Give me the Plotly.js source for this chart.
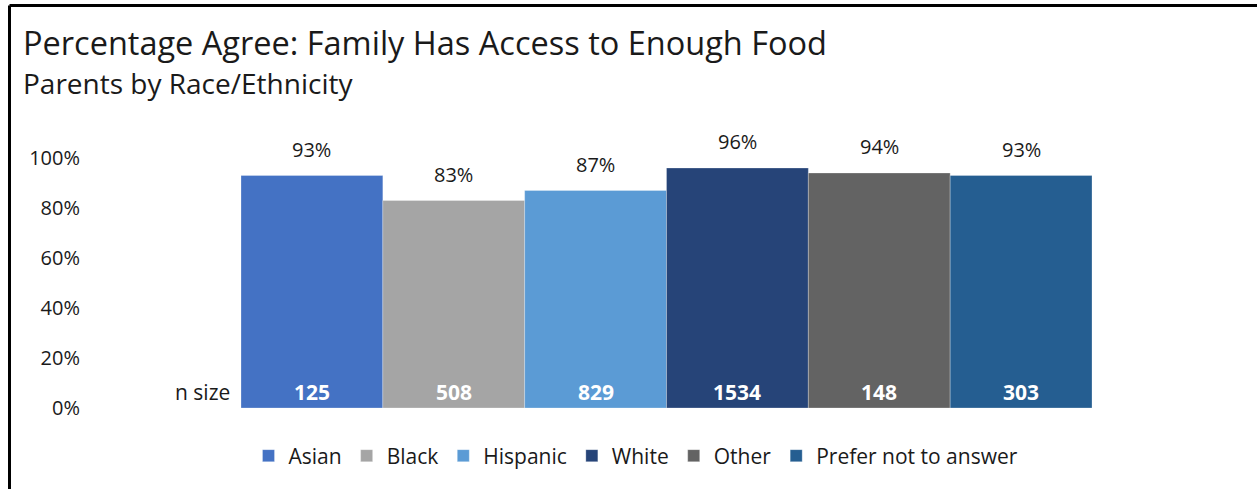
<!DOCTYPE html>
<html>
<head>
<meta charset="utf-8">
<script src="https://cdn.plot.ly/plotly-3.0.1.min.js"></script>
<style>
  html, body { margin: 0; padding: 0; background: #ffffff; }
  #chart { width: 1257px; height: 489px; }
</style>
</head>
<body>
<div id="chart"></div>
<script>
// ---- data ----
const groups = ["Asian", "Black", "Hispanic", "White", "Other", "Prefer not to answer"];
const agreeShare = [0.93, 0.83, 0.87, 0.96, 0.94, 0.93];
const agreeLabels = ["93%", "83%", "87%", "96%", "94%", "93%"];
const nSizes = ["125", "508", "829", "1534", "148", "303"];
const groupColors = ["#4472C4", "#A5A5A5", "#5B9BD5", "#264478", "#636363", "#255E91"];
const titleText = "Percentage Agree: Family Has Access to Enough Food";
const subtitleText = "Parents by Race/Ethnicity";
const nSizeLabel = "n size";

// ---- geometry (pixels) ----
const W = 1257, H = 489;
const L = 80, R = 165, T = 158, B = 81;
const plotW = W - L - R, plotH = H - T - B;
const bottomPx = H - B;
const fx = px => (px - L) / plotW;
const fy = py => (bottomPx - py) / plotH;

const FONT = '"Open Sans", "Noto Sans", sans-serif';

const traces = groups.map((g, i) => ({
  type: "bar",
  name: g,
  x: [g],
  y: [agreeShare[i]],
  marker: { color: groupColors[i], line: { width: 0.6, color: "rgba(255,255,255,0.45)" } },
  hoverinfo: "skip"
}));

const annotations = [];
annotations.push({
  xref: "paper", yref: "paper", x: fx(21), y: fy(42), xanchor: "left", yanchor: "middle",
  text: titleText, showarrow: false, font: { family: FONT, size: 32.5, color: "#1a1a1a" }
});
annotations.push({
  xref: "paper", yref: "paper", x: fx(21), y: fy(83), xanchor: "left", yanchor: "middle",
  text: subtitleText, showarrow: false, font: { family: FONT, size: 28, color: "#1a1a1a" }
});
annotations.push({
  xref: "paper", yref: "paper", x: fx(232), y: fy(392), xanchor: "right", yanchor: "middle",
  text: nSizeLabel, showarrow: false, font: { family: FONT, size: 21, color: "#1a1a1a" }
});
groups.forEach((g, i) => {
  annotations.push({
    x: g, y: agreeShare[i], xref: "x", yref: "y", yanchor: "bottom", yshift: 11,
    text: agreeLabels[i], showarrow: false, font: { family: FONT, size: 20, color: "#1a1a1a" }
  });
  annotations.push({
    x: g, y: fy(392), xref: "x", yref: "paper", yanchor: "middle",
    text: "<b>" + nSizes[i] + "</b>", showarrow: false, font: { family: FONT, size: 21, color: "#ffffff" }
  });
});

const layout = {
  width: W, height: H,
  margin: { l: L, r: R, t: T, b: B, pad: 0 },
  paper_bgcolor: "#ffffff", plot_bgcolor: "#ffffff",
  barmode: "overlay", bargap: 0,
  showlegend: true,
  legend: {
    orientation: "h", x: fx(636), xanchor: "center", y: fy(456), yanchor: "middle",
    font: { family: FONT, size: 21, color: "#1a1a1a" }, traceorder: "normal",
    itemclick: false, itemdoubleclick: false
  },
  xaxis: {
    domain: [fx(241), 1], range: [-0.5, 5.5], type: "category",
    showticklabels: false, showgrid: false, zeroline: false, showline: false, ticks: "", fixedrange: true
  },
  yaxis: {
    range: [0, 1], dtick: 0.2, tick0: 0, tickformat: ".0%", anchor: "free", position: 0,
    showgrid: false, zeroline: false, showline: false, ticks: "",
    tickfont: { family: FONT, size: 20, color: "#1a1a1a" }, fixedrange: true
  },
  annotations: annotations,
  shapes: [
    { type: "line", xref: "paper", yref: "paper", x0: fx(9.5), x1: fx(1300), y0: fy(5.5), y1: fy(5.5),
      line: { color: "#000000", width: 3 } },
    { type: "line", xref: "paper", yref: "paper", x0: fx(9.5), x1: fx(9.5), y0: fy(5.5), y1: fy(520),
      line: { color: "#000000", width: 3 } }
  ]
};

Plotly.newPlot("chart", traces, layout, { displayModeBar: false, staticPlot: true });
</script>
</body>
</html>
